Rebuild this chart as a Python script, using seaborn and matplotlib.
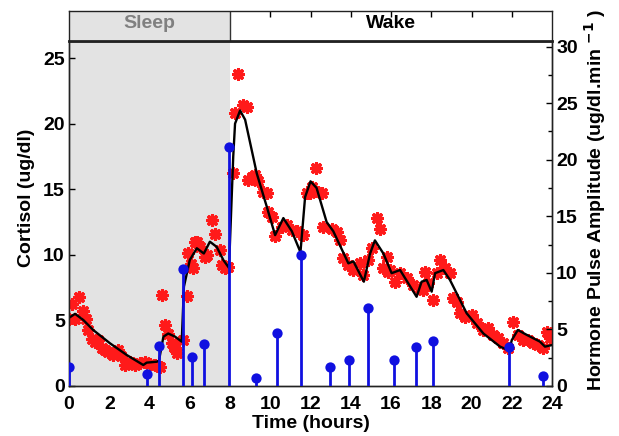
import numpy as np
import pandas as pd
import matplotlib
matplotlib.use('Agg')
import matplotlib.pyplot as plt
from matplotlib.ticker import MultipleLocator
import seaborn as sns

# ---- data ----
star_time = [0.0, 0.17, 0.3, 0.5, 0.71, 0.83, 0.96, 1.13, 1.29, 1.46, 1.62, 1.79, 1.95,
             2.2, 2.45, 2.58, 2.78, 3.03, 3.28, 3.53, 3.78, 4.02, 4.27, 4.4, 4.52, 4.62,
             4.77, 4.93, 5.1, 5.2, 5.27, 5.35, 5.68, 5.85, 5.93, 6.05, 6.14, 6.26, 6.35,
             6.51, 6.76, 6.85, 7.09, 7.25, 7.5, 7.59, 7.75, 7.92, 8.16, 8.25, 8.41, 8.66,
             8.83, 8.91, 9.08, 9.24, 9.4, 9.65, 9.82, 9.9, 10.07, 10.24, 10.57, 10.82,
             11.07, 11.31, 11.64, 11.81, 11.98, 12.06, 12.22, 12.27, 12.56, 12.64, 13.05,
             13.3, 13.47, 13.63, 13.88, 14.13, 14.46, 14.62, 14.87, 15.04, 15.29, 15.45,
             15.62, 15.82, 15.87, 15.95, 16.2, 16.45, 16.78, 17.1, 17.44, 17.6, 17.69,
             17.85, 18.07, 18.27, 18.43, 18.68, 18.93, 19.1, 19.27, 19.43, 19.68, 20.01,
             20.26, 20.59, 20.84, 21.08, 21.33, 21.58, 21.83, 22.08, 22.33, 22.58, 22.82,
             23.07, 23.32, 23.57, 23.74, 23.9]
star_cortisol = [5.08, 6.25, 5.08, 6.76, 5.74, 5.08, 4.27, 3.56, 3.38, 3.5, 2.87, 2.74, 2.61,
                 2.36, 2.74, 2.29, 1.6, 1.85, 1.6, 1.73, 1.85, 1.68, 1.6, 1.5, 1.42, 6.9,
                 4.65, 4.0, 3.25, 3.0, 2.87, 2.49, 3.5, 6.86, 10.1, 9.3, 8.97, 11.0, 11.0,
                 10.6, 9.86, 10.0, 12.65, 11.6, 10.4, 9.2, 8.97, 9.1, 16.2, 20.8, 23.8, 21.4,
                 21.3, 15.7, 15.95, 16.1, 15.6, 14.8, 14.7, 13.3, 12.9, 11.4, 12.1, 12.3,
                 11.9, 11.8, 11.5, 14.7, 14.7, 15.2, 14.9, 16.6, 14.7, 12.14, 12.0,
                 11.76, 11.1, 9.73, 9.22, 8.84, 9.35, 8.46, 9.6, 10.5, 12.8, 12.0,
                 8.97, 9.86, 8.71, 8.84, 7.95, 8.59, 8.2, 7.7, 7.45, 7.32, 8.71,
                 7.83, 6.55, 8.59, 9.6, 8.97, 8.59, 6.68, 6.43, 5.54, 5.28, 5.4,
                 4.78, 4.27, 4.4, 3.89, 3.63, 3.25, 2.87, 4.9, 3.89, 3.5, 3.5,
                 3.25, 3.12, 2.87, 4.14, 3.63]

fit_time = [0.0, 0.3, 0.71, 1.2, 2.04, 2.87, 3.69, 3.86, 4.36, 4.47, 4.69, 4.93, 5.27, 5.6,
            5.71, 6.0, 6.35, 6.7, 7.0, 7.34, 7.67, 7.95, 8.16, 8.25, 8.5, 8.75, 9.33, 9.82,
            10.24, 10.65, 11.07, 11.5, 11.73, 12.0, 12.3, 12.8, 13.13, 13.88, 14.13, 14.65,
            14.96, 15.2, 15.62, 16.03, 16.45, 17.27, 17.52, 17.77, 18.02, 18.19, 18.6, 18.93,
            19.76, 20.59, 21.42, 21.88, 22.0, 22.3, 22.74, 23.4, 23.65, 24.0]
fit_cortisol = [5.2, 5.5, 5.03, 4.27, 3.25, 2.36, 1.6, 1.78, 1.85, 1.93, 3.76, 4.0, 3.76, 3.38,
                7.57, 9.6, 10.5, 10.1, 11.0, 10.6, 9.6, 9.0, 17.5, 20.0, 21.0, 20.3, 16.2, 13.7,
                11.5, 12.8, 11.8, 10.2, 14.4, 15.6, 15.1, 12.5, 11.8, 9.35, 9.5, 7.95,
                10.1, 11.1, 10.1, 8.6, 8.84, 6.8, 7.95, 8.08, 7.19, 8.6, 8.84, 8.08,
                5.54, 4.0, 3.0, 2.7, 3.5, 4.27, 3.9, 3.38, 3.0, 3.12]

pulse_time = [0.0, 3.85, 4.47, 5.65, 6.13, 6.72, 7.95, 9.28, 10.35, 11.53, 12.98, 13.9,
              14.86, 16.15, 17.25, 18.07, 21.86, 23.54]
pulse_amp = [1.7, 1.06, 3.5, 10.35, 2.6, 3.7, 21.1, 0.68, 4.7, 11.6, 1.68, 2.27,
             6.87, 2.27, 3.48, 4.0, 3.48, 0.88]

x_ticks = list(range(0, 25, 2))
left_ticks = [0, 5, 10, 15, 20, 25]
right_ticks = [0, 5, 10, 15, 20, 25, 30]

stars = pd.DataFrame({'t': star_time, 'c': star_cortisol})
fit = pd.DataFrame({'t': fit_time, 'c': fit_cortisol})
pulses = pd.DataFrame({'t': pulse_time, 'a': pulse_amp})

# ---- style ----
sns.set_theme(style='white')
plt.rcParams['font.family'] = ['Liberation Sans', 'DejaVu Sans']
plt.rcParams['font.weight'] = 'bold'
plt.rcParams['axes.labelweight'] = 'bold'
plt.rcParams['mathtext.default'] = 'bf'
for k in ('text.color', 'axes.labelcolor', 'xtick.color', 'ytick.color'):
    plt.rcParams[k] = 'black'

GRAY = '#e3e3e3'
BLUE = '#1010e0'
RED = '#ff1a1a'
FS = 14

fig = plt.figure(figsize=(6.19, 4.36), dpi=100)
ax = fig.add_axes([0.1115, 0.1147, 0.7803, 0.7913])
ax.axvspan(0, 8, color=GRAY, zorder=0, lw=0)

sns.scatterplot(data=stars, x='t', y='c', ax=ax, marker=(8, 2, 0), s=50,
                color=RED, edgecolor=RED, linewidth=2.4, zorder=3, legend=False)
sns.lineplot(data=fit, x='t', y='c', ax=ax, color='black', lw=1.7, zorder=4,
             estimator=None, sort=False)

ax.set_xlim(0, 24)
ax.set_ylim(0, 26.3)
ax.set_xticks(x_ticks)
ax.set_yticks(left_ticks)
ax.tick_params(axis='both', direction='in', length=4, width=1, labelsize=FS, pad=3)
ax.tick_params(axis='x', pad=7)
for lab in ax.get_xticklabels() + ax.get_yticklabels():
    lab.set_fontweight('bold')
ax.set_xlabel('Time (hours)', fontsize=FS, fontweight='bold', labelpad=2)
ax.set_ylabel('Cortisol (ug/dl)', fontsize=FS, fontweight='bold')
ax.yaxis.set_label_coords(-0.07, 0.545)

ax2 = ax.twinx()
ax2.vlines(pulses['t'], 0, pulses['a'], color=BLUE, lw=2.0, zorder=5)
sns.scatterplot(data=pulses, x='t', y='a', ax=ax2, color=BLUE, s=55,
                edgecolor=BLUE, linewidth=0, zorder=6, legend=False)
ax2.set_ylim(0, 30.5)
ax2.set_yticks(right_ticks)
ax2.yaxis.set_minor_locator(MultipleLocator(2.5))
ax2.tick_params(axis='y', which='major', direction='in', length=4, width=1, labelsize=FS,
                pad=3)
ax2.tick_params(axis='y', which='minor', direction='in', length=3, width=1)
for lab in ax2.get_yticklabels():
    lab.set_fontweight('bold')
ax2.set_ylabel(r'Hormone Pulse Amplitude (ug/dl.min $^{-1}$ )', fontsize=14,
               fontweight='bold')
ax2.yaxis.set_label_coords(1.062, 0.54)
ax2.set_xlim(0, 24)
ax2.set_xlabel('')

for a in (ax, ax2):
    for sp in a.spines.values():
        sp.set_color('#222222')
        sp.set_linewidth(1.0)

# ---- top sleep / wake bar ----
axb = fig.add_axes([0.1115, 0.906, 0.7803, 0.069])
axb.set_xlim(0, 24)
axb.set_ylim(0, 1)
axb.axvspan(0, 8, color=GRAY, lw=0, zorder=0)
axb.axvline(8, color='#333333', lw=1.0)
axb.text(4, 0.58, 'Sleep', ha='center', va='center', fontsize=FS, fontweight='bold',
         color='#808080')
axb.text(16, 0.58, 'Wake', ha='center', va='center', fontsize=FS, fontweight='bold',
         color='black')
axb.set_yticks([])
axb.set_xticks([10, 12, 14, 16, 18, 20, 22])
axb.tick_params(axis='x', direction='in', top=True, bottom=False, labeltop=False,
                labelbottom=False, length=4, width=1)
for sp in axb.spines.values():
    sp.set_color('#222222')
    sp.set_linewidth(1.0)
axb.spines['bottom'].set_linewidth(2.0)

fig.savefig('out.png', dpi=100)
